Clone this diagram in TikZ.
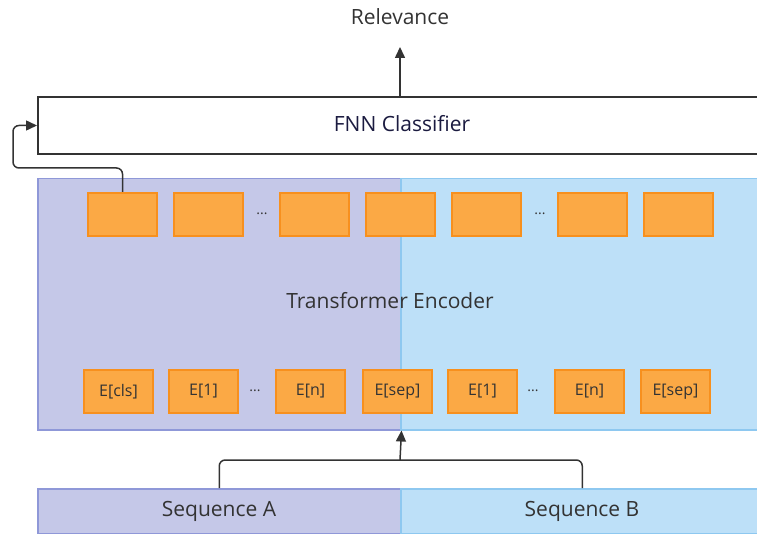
\documentclass[tikz,border=0pt]{standalone}
\usepackage{fontspec}
\setmainfont{Open Sans}
\usetikzlibrary{arrows.meta}
\definecolor{lavfill}{HTML}{C5C8E8}
\definecolor{lavline}{HTML}{8F98D8}
\definecolor{skyfill}{HTML}{BDE0F8}
\definecolor{skyline}{HTML}{8EC8F0}
\definecolor{orfill}{HTML}{FBA945}
\definecolor{orline}{HTML}{F7901E}
\definecolor{ink}{HTML}{333333}
\definecolor{navy}{HTML}{1B1B40}
\tikzset{
  px/.style={x=1pt,y=-1pt},
  lbl/.style={text=ink,font=\fontsize{21}{24}\selectfont,inner sep=0pt},
  halfA/.style={draw=lavline,fill=lavfill,line width=1.5pt,anchor=north west,inner sep=0pt},
  halfB/.style={draw=skyline,fill=skyfill,line width=1.5pt,anchor=north west,inner sep=0pt},
  token/.style={draw=orline,fill=orfill,line width=2pt,minimum width=69pt,minimum height=43pt,inner sep=0pt,anchor=north west},
  emb/.style={draw=orline,fill=orfill,line width=2pt,minimum width=69pt,minimum height=43pt,inner sep=0pt,anchor=north west,text=ink,font=\fontsize{16}{18}\selectfont},
  dots/.style={text=ink,font=\fontsize{14}{16}\selectfont,inner sep=0pt},
  conn/.style={draw=ink,line width=1.5pt,rounded corners=6pt},
  tip/.style={-{Triangle[length=11pt,width=10pt]}}
}
\begin{document}
\begin{tikzpicture}[px]
\useasboundingbox (0,0) rectangle (757,534);
\clip (0,0) rectangle (757,534);

% output label
\node[lbl] (rel) at (400,17) {Relevance};

% classifier head
\node[draw=ink,line width=2pt,fill=white,anchor=north west,minimum width=726pt,minimum height=57pt,inner sep=0pt] (fnn) at (37,96) {};
\node[text=navy,font=\fontsize{21}{24}\selectfont,inner sep=0pt] (fnnlbl) at (402,124) {FNN Classifier};

% encoder, split into the two segment halves
\node[halfA,minimum width=363pt,minimum height=251pt] (encA) at (37,178) {};
\node[halfB,minimum width=363pt,minimum height=251pt] (encB) at (400,178) {};
\node[lbl] (enclbl) at (390,301) {Transformer Encoder};

% encoder outputs
\node[token] (t1) at (87,192) {};
\node[token] (t2) at (173,192) {};
\node[dots] (d1) at (262,214) {...};
\node[token] (t3) at (279,192) {};
\node[token] (t4) at (365,192) {};
\node[token] (t5) at (451,192) {};
\node[dots] (d2) at (540,214) {...};
\node[token] (t6) at (557,192) {};
\node[token] (t7) at (643,192) {};

% input embeddings
\node[emb] (e1) at (83,369) {E[cls]};
\node[emb] (e2) at (168,369) {E[1]};
\node[dots] (d3) at (255,391) {...};
\node[emb] (e3) at (275,369) {E[n]};
\node[emb] (e4) at (362,369) {E[sep]};
\node[emb] (e5) at (447,369) {E[1]};
\node[dots] (d4) at (533,391) {...};
\node[emb] (e6) at (554,369) {E[n]};
\node[emb] (e7) at (640,369) {E[sep]};

% input sequences
\node[halfA,minimum width=363pt,minimum height=45pt] (seqA) at (37,488) {};
\node[halfB,minimum width=363pt,minimum height=45pt] (seqB) at (400,488) {};
\node[lbl] (seqAlbl) at (219,511) {Sequence A};
\node[lbl] (seqBlbl) at (582,511) {Sequence B};

% connectors
\coordinate (join) at (400,460);
\coordinate (bend) at (13,168);
\draw[conn] (seqA.north) |- (join);
\draw[conn] (seqB.north) |- (join);
\draw[conn,tip] (join) -- (encA.south east);
\draw[conn,tip] (t1.north) |- (bend) |- (fnn.west);
\draw[conn,tip] (fnn.north -| rel) -- (400,47);
\end{tikzpicture}
\end{document}
